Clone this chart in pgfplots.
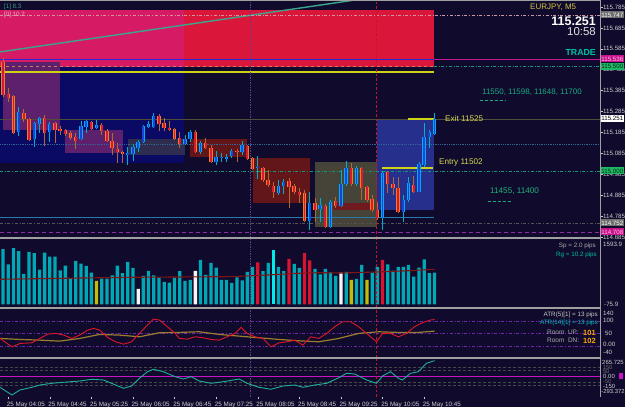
\documentclass[border=0pt]{standalone}
\usepackage{fontspec}
\setmainfont{Liberation Sans}
\usepackage{pgfplots}
\usepackage{pgfplotstable}
\pgfplotsset{compat=1.18}
\pgfplotsset{/pgf/number format/assume math mode=true}

\definecolor{bg}{RGB}{16,11,44}
\definecolor{lbl}{RGB}{205,205,205}
\definecolor{navybox}{RGB}{10,10,100}
\definecolor{pinkbox}{RGB}{214,26,100}
\definecolor{crimbox}{RGB}{218,22,58}
\definecolor{purpbox}{RGB}{92,32,108}
\definecolor{graybox}{RGB}{46,45,80}
\definecolor{brownbox}{RGB}{98,22,26}
\definecolor{olivebox}{RGB}{70,68,56}
\definecolor{bluebox}{RGB}{38,48,140}
\definecolor{smallred}{RGB}{112,26,32}
\definecolor{diag}{RGB}{60,165,140}
\definecolor{yel}{RGB}{205,212,20}
\definecolor{txtyel}{RGB}{215,215,80}
\definecolor{teal1}{RGB}{25,170,130}
\definecolor{bullwick}{RGB}{0,175,200}
\definecolor{bearwick}{RGB}{175,105,50}
\definecolor{bulledge}{RGB}{0,170,255}
\definecolor{bullfill}{RGB}{20,70,210}
\definecolor{bearedge}{RGB}{240,125,40}
\definecolor{bearfill}{RGB}{215,25,50}
\definecolor{volcyan}{RGB}{0,168,182}
\definecolor{volbright}{RGB}{0,235,235}
\definecolor{volred}{RGB}{215,20,50}
\definecolor{volyel}{RGB}{190,190,10}
\definecolor{volma}{RGB}{125,22,22}
\definecolor{atrred}{RGB}{225,20,40}
\definecolor{atrolive}{RGB}{155,125,45}
\definecolor{lvl}{RGB}{110,40,170}
\definecolor{ccit}{RGB}{30,175,155}
\definecolor{magl}{RGB}{200,20,200}
\definecolor{sep}{RGB}{160,160,160}
\definecolor{reddash}{RGB}{200,20,30}
\definecolor{purdot}{RGB}{100,60,140}

\newcommand{\fs}[1]{\fontsize{#1}{#1}\selectfont}

\pgfplotsset{panel/.style={anchor=south west, width=600bp, scale only axis,
  xmin=-0.577, xmax=114.81, axis line style={draw=none},
  xtick=\empty, ytick=\empty, clip=true}}

\begin{document}
\pgfplotstableread{
i O H L C
3 115.187 115.307 115.168 115.283
6 115.153 115.235 115.115 115.230
7 115.225 115.259 115.182 115.254
9 115.187 115.235 115.139 115.225
15 115.153 115.240 115.149 115.216
16 115.211 115.244 115.182 115.240
18 115.206 115.244 115.201 115.220
24 115.077 115.115 115.029 115.086
25 115.082 115.129 115.048 115.115
26 115.110 115.149 115.091 115.139
27 115.139 115.220 115.134 115.216
28 115.211 115.240 115.206 115.225
29 115.211 115.278 115.206 115.263
35 115.129 115.173 115.125 115.153
36 115.153 115.197 115.139 115.187
38 115.091 115.144 115.082 115.134
41 115.043 115.096 115.029 115.067
42 115.062 115.086 115.043 115.067
43 115.058 115.082 115.043 115.067
44 115.072 115.106 115.062 115.096
46 115.091 115.144 115.077 115.125
49 115.015 115.072 114.962 115.019
53 114.895 114.957 114.885 114.929
54 114.929 114.962 114.890 114.948
59 114.761 114.900 114.718 114.847
61 114.818 114.871 114.756 114.838
63 114.732 114.862 114.728 114.852
65 114.833 115.005 114.828 114.938
66 114.938 115.048 114.929 115.015
68 114.938 115.024 114.929 115.015
73 114.775 115.000 114.718 114.991
77 114.804 114.885 114.756 114.862
78 114.862 114.972 114.852 114.943
80 114.900 115.043 114.900 115.034
81 115.029 115.230 115.019 115.163
82 115.163 115.197 115.110 115.187
83 115.177 115.278 115.173 115.251
}\bull
\pgfplotstableread{
i O H L C
0 115.522 115.541 115.354 115.364
1 115.369 115.397 115.330 115.350
2 115.359 115.364 115.177 115.182
4 115.278 115.297 115.235 115.249
5 115.249 115.254 115.144 115.149
8 115.254 115.268 115.120 115.182
10 115.230 115.235 115.134 115.197
11 115.201 115.216 115.173 115.192
12 115.197 115.201 115.168 115.177
13 115.182 115.192 115.149 115.158
14 115.163 115.182 115.106 115.144
17 115.235 115.240 115.197 115.201
19 115.220 115.230 115.173 115.192
20 115.192 115.201 115.139 115.144
21 115.144 115.182 115.077 115.110
22 115.106 115.134 115.039 115.091
23 115.091 115.096 115.039 115.082
30 115.263 115.273 115.192 115.225
31 115.230 115.254 115.192 115.206
32 115.206 115.240 115.192 115.197
33 115.201 115.206 115.149 115.153
34 115.158 115.187 115.110 115.129
37 115.187 115.197 115.086 115.091
39 115.134 115.158 115.106 115.110
40 115.110 115.125 115.039 115.043
45 115.096 115.106 115.043 115.091
47 115.120 115.125 115.053 115.058
48 115.062 115.067 115.005 115.010
50 115.015 115.019 114.948 114.957
51 114.957 115.005 114.924 114.933
52 114.929 114.948 114.871 114.900
55 114.952 114.967 114.823 114.924
56 114.929 114.938 114.890 114.900
57 114.900 114.919 114.847 114.885
58 114.895 114.909 114.756 114.761
60 114.847 114.871 114.756 114.814
62 114.833 114.842 114.728 114.732
64 114.857 114.876 114.823 114.833
67 115.015 115.039 114.929 114.938
69 115.015 115.019 114.862 114.919
70 114.924 114.929 114.852 114.862
71 114.866 114.885 114.804 114.814
72 114.814 114.852 114.766 114.775
74 114.996 115.000 114.895 114.938
75 114.938 114.972 114.885 114.919
76 114.919 114.972 114.799 114.804
79 114.933 114.976 114.895 114.900
}\bear
\begin{tikzpicture}
\useasboundingbox (0bp,0bp) rectangle (625bp,407bp);
\fill[bg] (0bp,0bp) rectangle (625bp,407bp);

% ================= MAIN PRICE PANEL =================
\begin{axis}[panel, at={(0bp,168.5bp)}, height=238.5bp,
  ymin=114.6774, ymax=115.8185,
  ytick={114.685,114.785,114.885,114.985,115.085,115.185,115.285,115.385,115.485,115.585,115.685,115.785},
  ytick pos=right, yticklabel pos=right, tick align=outside, major tick length=2.5bp,
  tick style={draw=lbl, line width=0.5bp},
  yticklabel style={font=\fs{6.2}, text=lbl, inner sep=0pt, anchor=west, xshift=0.5bp},
  yticklabel={\pgfmathprintnumber[fixed,fixed zerofill,precision=3]{\tick}},
]
% big zones
\addplot[fill=pinkbox, draw=none] coordinates {(-0.577,115.498) (34.8,115.498) (34.8,115.771) (-0.577,115.771)};
\addplot[fill=crimbox, draw=none] coordinates {(34.8,115.498) (82.9,115.498) (82.9,115.771) (34.8,115.771)};
\addplot[fill=navybox, draw=none] coordinates {(-0.577,115.039) (34.8,115.039) (34.8,115.498) (-0.577,115.498)};
% hourly boxes
\addplot[fill=purpbox, draw=none] coordinates {(0,115.197) (11,115.197) (11,115.522) (0,115.522)};
\addplot[fill=purpbox, draw=none] coordinates {(12,115.086) (23,115.086) (23,115.197) (12,115.197)};
\addplot[fill=graybox, draw=none] coordinates {(24,115.077) (35,115.077) (35,115.153) (24,115.153)};
\addplot[fill=brownbox, draw=none] coordinates {(36,115.067) (47,115.067) (47,115.153) (36,115.153)};
\addplot[fill=brownbox, draw=none] coordinates {(48,114.847) (59,114.847) (59,115.062) (48,115.062)};
\addplot[fill=olivebox, draw=none] coordinates {(60,114.732) (71.85,114.732) (71.85,115.043) (60,115.043)};
\addplot[fill=smallred, draw=none] coordinates {(63.5,114.814) (71,114.814) (71,114.847) (63.5,114.847)};
\addplot[fill=bluebox, draw=none] coordinates {(71.95,114.814) (82.8,114.814) (82.8,115.249) (71.95,115.249)};
% diagonal trend line
\addplot[diag, line width=1.4bp] coordinates {(-0.577,115.570) (72.5,115.836)};
% horizontal levels
\addplot[color={rgb,255:red,205;green,150;blue,165}, dash dot, line width=0.6bp] coordinates {(-0.577,115.747) (114.81,115.747)};
\addplot[color={rgb,255:red,40;green,40;blue,215}, line width=0.8bp] coordinates {(-0.577,115.536) (82.9,115.536)};
\addplot[color={rgb,255:red,195;green,25;blue,145}, line width=0.8bp] coordinates {(82.9,115.536) (114.81,115.536)};
\addplot[color={rgb,255:red,200;green,125;blue,95}, dashed, line width=0.7bp] coordinates {(-0.577,115.500) (82.9,115.500)};
\addplot[color={rgb,255:red,20;green,150;blue,130}, dash dot, line width=0.7bp] coordinates {(82.9,115.500) (114.81,115.500)};
\addplot[yel, line width=1.2bp] coordinates {(-0.577,115.474) (82.9,115.474)};
\addplot[color={rgb,255:red,78;green,78;blue,58}, line width=0.9bp] coordinates {(-0.577,115.249) (114.81,115.249)};
\addplot[color={rgb,255:red,50;green,100;blue,150}, densely dotted, line width=0.8bp] coordinates {(-0.577,115.129) (114.81,115.129)};
\addplot[color={rgb,255:red,20;green,150;blue,120}, dash dot, line width=0.7bp] coordinates {(-0.577,115.000) (114.81,115.000)};
\addplot[color={rgb,255:red,40;green,120;blue,170}, line width=0.7bp] coordinates {(-0.577,114.780) (82.9,114.780)};
\addplot[color={rgb,255:red,85;green,85;blue,85}, dash dot, line width=0.7bp] coordinates {(-0.577,114.752) (114.81,114.752)};
\addplot[color={rgb,255:red,150;green,40;blue,170}, dash pattern=on 4bp off 3bp, line width=0.9bp] coordinates {(-0.577,114.708) (114.81,114.708)};
% trade levels
\addplot[yel, line width=1.4bp] coordinates {(77.9,115.249) (83.1,115.249)};
\addplot[yel, line width=1.4bp] coordinates {(72.9,115.015) (82.7,115.015)};
\addplot[teal1, densely dashed, line width=0.6bp] coordinates {(91.7,115.340) (96.5,115.340)};
\addplot[teal1, densely dashed, line width=0.6bp] coordinates {(93.3,114.857) (97.9,114.857)};
% verticals
\addplot[purdot, densely dotted, line width=0.7bp] coordinates {(47.63,114.6774) (47.63,115.8185)};
\addplot[reddash, dash pattern=on 2.5bp off 2bp, line width=0.8bp] coordinates {(71.83,114.6774) (71.83,115.8185)};
% candles: wicks
\addplot[draw=none, mark=none, forget plot, error bars/.cd, y dir=plus, y explicit, error mark=none,
  error bar style={draw=bullwick, line width=0.8bp}]
  table[x=i, y=L, y error plus expr=\thisrow{H}-\thisrow{L}] {\bull};
\addplot[draw=none, mark=none, forget plot, error bars/.cd, y dir=plus, y explicit, error mark=none,
  error bar style={draw=bearwick, line width=0.8bp}]
  table[x=i, y=L, y error plus expr=\thisrow{H}-\thisrow{L}] {\bear};
% candles: bodies
\addplot[draw=none, mark=none, forget plot, error bars/.cd, y dir=plus, y explicit, error mark=none,
  error bar style={draw=bulledge, line width=3.4bp}]
  table[x=i, y=O, y error plus expr=\thisrow{C}-\thisrow{O}] {\bull};
\addplot[draw=none, mark=none, forget plot, error bars/.cd, y dir=plus, y explicit, error mark=none,
  error bar style={draw=bullfill, line width=1.8bp}]
  table[x=i, y=O, y error plus expr=\thisrow{C}-\thisrow{O}] {\bull};
\addplot[draw=none, mark=none, forget plot, error bars/.cd, y dir=plus, y explicit, error mark=none,
  error bar style={draw=bearedge, line width=3.4bp}]
  table[x=i, y=C, y error plus expr=\thisrow{O}-\thisrow{C}] {\bear};
\addplot[draw=none, mark=none, forget plot, error bars/.cd, y dir=plus, y explicit, error mark=none,
  error bar style={draw=bearfill, line width=1.8bp}]
  table[x=i, y=C, y error plus expr=\thisrow{O}-\thisrow{C}] {\bear};
\end{axis}

% ================= VOLUME PANEL =================
\begin{axis}[panel, at={(0bp,99.5bp)}, height=68.5bp, ymin=-75.9, ymax=1593.9]
\addplot[ybar, bar width=3.3bp, bar shift=0pt, fill=volcyan, draw=none] coordinates {
(0,1344) (1,978) (2,1369) (3,1296) (4,742) (5,1279) (6,1247) (7,847) (8,1261) (9,1164)
(10,1164) (11,832) (12,944) (13,637) (14,1059) (15,993) (16,937) (17,773) (19,627)
(20,627) (21,710) (22,944) (23,759) (24,1035) (25,888) (27,693) (28,815) (29,710)
(30,651) (31,547) (32,529) (33,651) (34,808) (35,571) (36,595) (38,1083) (39,717)
(40,1010) (41,895) (42,595) (43,595) (44,522) (45,661) (46,588) (47,791) (48,913)
(50,808) (51,1010) (53,913) (54,808) (56,986) (57,888) (60,864) (61,734) (62,864)
(63,783) (64,693) (66,791) (68,620) (69,961) (71,773) (72,913) (74,978) (75,822)
(76,913) (77,913) (78,961) (79,676) (80,895) (81,1100) (82,759) (83,773)};
\addplot[ybar, bar width=3.3bp, bar shift=0pt, fill=volred, draw=none] coordinates {
(49,1027) (55,1108) (58,1247) (59,1071) (73,1083)};
\addplot[ybar, bar width=3.3bp, bar shift=0pt, fill=white!92!gray, draw=none] coordinates {
(26,376) (37,815) (65,773)};
\addplot[ybar, bar width=3.3bp, bar shift=0pt, fill=volyel, draw=none] coordinates {
(18,571) (67,595) (70,595)};
\addplot[ybar, bar width=3.3bp, bar shift=0pt, fill=volbright, draw=none] coordinates {(52,1320)};
\addplot[volma, line width=1.1bp] coordinates {(-0.577,612) (12,637) (25,661) (44,676) (51,717) (57,759) (61,773) (65,765) (72,790) (78,820) (83,856)};
\addplot[purdot, densely dotted, line width=0.7bp] coordinates {(47.63,-75.9) (47.63,1593.9)};
\addplot[reddash, dash pattern=on 2.5bp off 2bp, line width=0.8bp] coordinates {(71.83,-75.9) (71.83,1593.9)};
\end{axis}

% ================= ATR PANEL =================
\begin{axis}[panel, at={(0bp,49.3bp)}, height=48.7bp, ymin=-46, ymax=148]
\addplot[lvl, dash dot, line width=0.6bp] coordinates {(-0.577,100) (114.81,100)};
\addplot[lvl, dash dot, line width=0.6bp] coordinates {(-0.577,50) (114.81,50)};
\addplot[lvl, dash dot, line width=0.6bp] coordinates {(-0.577,0) (114.81,0)};
\addplot[purdot, densely dotted, line width=0.7bp] coordinates {(47.63,-46) (47.63,148)};
\addplot[reddash, dash pattern=on 2.5bp off 2bp, line width=0.8bp] coordinates {(71.83,-46) (71.83,148)};
\addplot[atrolive, line width=1.2bp] coordinates {
(-0.58,30.7) (3.25,26.7) (7.09,24) (10.92,20) (14.75,30.7) (18.58,46.7) (22.41,44)
(26.24,37.3) (30.07,53.3) (33.9,54.7) (37.74,57.3) (41.57,46.7) (45.4,40) (49.23,33.3)
(53.06,26.7) (56.9,21.3) (60.72,17.3) (64.56,30.7) (68.39,50.7) (72.22,57.3) (76.05,54.7)
(79.88,54.7) (83,60)};
\addplot[atrred, line width=0.9bp] coordinates {
(-0.58,30.7) (1.72,-2.7) (3.25,10.7) (5.55,13.3) (7.09,30.7) (8.62,48) (10.15,50.7)
(11.68,44) (13.22,30.7) (14.75,44) (16.28,64) (17.43,70.7) (18.58,64) (20.11,34.7)
(21.65,17.3) (23.18,8) (24.71,17.3) (26.24,50.7) (27.78,84) (28.92,108) (30.07,104)
(31.6,77.3) (33.14,50.7) (33.9,30.7) (35.44,28) (36.97,37.3) (38.5,33.3) (40.03,26.7)
(41.57,24) (43.1,37.3) (44.63,50.7) (45.78,74.7) (46.93,50.7) (48.47,37.3) (50,30.7)
(51.53,-2.7) (53.06,13.3) (54.6,17.3) (56.13,24) (57.66,4) (59.2,37.3) (60.72,30.7)
(62.26,50.7) (63.79,77.3) (65.32,97.3) (66.86,97.3) (68.39,77.3) (69.92,50.7) (71.84,17.3)
(72.99,50.7) (74.52,50.7) (76.05,37.3) (77.58,50.7) (79.11,77.3) (80.65,93.3) (82.18,104) (83,106)};
\end{axis}

% ================= CCI PANEL =================
\begin{axis}[panel, at={(0bp,10bp)}, height=38.5bp, ymin=-352, ymax=302.6,
  xtick={1,9,17,25,33,41,49,57,65,73,81},
  xticklabels={25 May 04:05,25 May 04:45,25 May 05:25,25 May 06:05,25 May 06:45,25 May 07:25,25 May 08:05,25 May 08:45,25 May 09:25,25 May 10:05,25 May 10:45},
  xtick pos=left, tick align=outside, major tick length=2.5bp,
  tick style={draw=lbl, line width=0.5bp},
  xticklabel style={font=\fs{6.3}, text=lbl, anchor=north west, inner sep=0pt, xshift=-1.5bp, yshift=-2.5bp},
]
\addplot[color={rgb,255:red,70;green,70;blue,70}, densely dashed, line width=0.6bp] coordinates {(-0.577,150) (114.81,150)};
\addplot[color={rgb,255:red,70;green,70;blue,70}, densely dashed, line width=0.6bp] coordinates {(-0.577,100) (114.81,100)};
\addplot[color={rgb,255:red,70;green,70;blue,70}, densely dashed, line width=0.6bp] coordinates {(-0.577,-100) (114.81,-100)};
\addplot[color={rgb,255:red,70;green,70;blue,70}, densely dashed, line width=0.6bp] coordinates {(-0.577,-150) (114.81,-150)};
\addplot[magl, line width=0.8bp] coordinates {(-0.577,0) (114.81,0)};
\addplot[purdot, densely dotted, line width=0.7bp] coordinates {(47.63,-352) (47.63,302.6)};
\addplot[reddash, dash pattern=on 2.5bp off 2bp, line width=0.8bp] coordinates {(71.83,-352) (71.83,302.6)};
\addplot[ccit, line width=0.9bp] coordinates {
(-0.58,-187) (1.72,-318) (3.25,-233) (5.55,-187) (7.09,-148) (9.38,-119) (11.68,-102)
(14.75,-80) (17.05,-51) (19.35,-63) (21.65,-148) (23.18,-204) (24.71,-165) (26.24,-34)
(27.78,78) (28.92,119) (30.84,78) (33.14,-7) (34.67,-46) (36.21,-7) (37.74,-80)
(40.03,-119) (42.33,-92) (45.4,-46) (46.93,-119) (49.23,-187) (51.53,-221) (53.83,-165)
(56.13,-148) (57.66,-187) (59.96,-148) (62.26,-119) (64.56,-24) (66.09,51) (67.62,39)
(69.92,-63) (71.84,-119) (72.99,5) (74.52,78) (76.05,-34) (76.82,-63) (78.35,51)
(79.88,78) (81.41,221) (83,265.7)};
\end{axis}

\begin{scope}[x=1bp,y=1bp]
% ================= frame lines =================
\draw[sep, line width=0.8bp] (0,406.3) -- (600,406.3);
\draw[sep, line width=1.6bp] (0,168.7) -- (600,168.7);
\draw[sep, line width=1.6bp] (0,98.8) -- (600,98.8);
\draw[sep, line width=1.6bp] (0,49.1) -- (600,49.1);
\draw[sep, line width=0.8bp] (600.2,10) -- (600.2,407);

% ================= texts: main panel =================
\node[anchor=west, font=\fs{6.3}, text={rgb,255:red,60;green,150;blue,130}] at (0.5,400.5) {[1] 8.3};
\node[anchor=west, font=\fs{6.3}, text={rgb,255:red,230;green,175;blue,195}] at (0.5,392) {[0] 10.2};
\node[anchor=west, font=\fs{8}, text={rgb,255:red,210;green,195;blue,70}, inner sep=0pt] at (530,400) {EURJPY, M5};
\node[anchor=east, font=\bfseries\fs{12.5}, text=white, inner sep=0pt] at (596,386) {115.251};
\node[anchor=east, font=\fs{11.5}, text={rgb,255:red,225;green,225;blue,225}, inner sep=0pt] at (596,375) {10:58};
\node[anchor=east, font=\bfseries\fs{8.8}, text={rgb,255:red,0;green,195;blue,165}, inner sep=0pt] at (596,355) {TRADE};
\node[anchor=west, font=\fs{8}, text=teal1, inner sep=0pt] at (482,315) {11550, 11598, 11648, 11700};
\node[anchor=west, font=\fs{8.2}, text=txtyel, inner sep=0pt] at (445,288) {Exit 11525};
\node[anchor=west, font=\fs{8.2}, text=txtyel, inner sep=0pt] at (439,245) {Entry 11502};
\node[anchor=west, font=\fs{8.2}, text={rgb,255:red,30;green,180;blue,120}, inner sep=0pt] at (490,216) {11455, 11400};

% right-side price tags
\node[anchor=west, fill={rgb,255:red,110;green,110;blue,110}, text=white, font=\fs{6.2}, inner sep=0.4bp, minimum height=7bp] at (600.8,392) {115.747};
\node[anchor=west, fill={rgb,255:red,200;green,20;blue,140}, text={rgb,255:red,255;green,190;blue,230}, font=\fs{6.2}, inner sep=0.4bp, minimum height=7bp] at (600.8,348) {115.536};
\node[anchor=west, fill={rgb,255:red,30;green,185;blue,100}, text={rgb,255:red,10;green,40;blue,20}, font=\fs{6.2}, inner sep=0.4bp, minimum height=7bp] at (600.8,340.5) {115.500};
\node[anchor=west, fill=white, text=black, font=\fs{6.2}, inner sep=0.4bp, minimum height=7bp] at (600.8,288.5) {115.251};
\node[anchor=west, fill={rgb,255:red,30;green,185;blue,100}, text={rgb,255:red,10;green,40;blue,20}, font=\fs{6.2}, inner sep=0.4bp, minimum height=7bp] at (600.8,236) {115.000};
\node[anchor=west, fill={rgb,255:red,110;green,110;blue,110}, text=white, font=\fs{6.2}, inner sep=0.4bp, minimum height=7bp] at (600.8,184) {114.752};
\node[anchor=west, fill={rgb,255:red,200;green,20;blue,140}, text={rgb,255:red,255;green,190;blue,230}, font=\fs{6.2}, inner sep=0.4bp, minimum height=7bp] at (600.8,175) {114.708};

% ================= texts: volume panel =================
\node[anchor=east, font=\fs{6.3}, text={rgb,255:red,170;green,170;blue,170}, inner sep=0pt] at (596,161.3) {Sp = 2.0 pips};
\node[anchor=east, font=\fs{6.3}, text={rgb,255:red,0;green,190;blue,160}, inner sep=0pt] at (597,152) {Rg = 10.2 pips};
\node[anchor=west, font=\fs{6.2}, text=lbl, inner sep=0pt] at (603,163) {1593.9};
\node[anchor=west, font=\fs{6.2}, text=lbl, inner sep=0pt] at (604,103) {-75.9};

% ================= texts: ATR panel =================
\node[anchor=east, font=\fs{6.3}, text={rgb,255:red,200;green,200;blue,200}, inner sep=0pt] at (598,92) {ATR(5)[1] = 13 pips};
\node[anchor=east, font=\fs{6.3}, text={rgb,255:red,0;green,190;blue,190}, inner sep=0pt] at (598,84) {ATR(14)[1] = 13 pips};
\node[anchor=west, font=\fs{6.5}, text={rgb,255:red,170;green,170;blue,170}, inner sep=0pt] at (547,74.3) {Room\ \ UP:};
\node[anchor=west, font=\bfseries\fs{7.5}, text={rgb,255:red,255;green,165;blue,0}, inner sep=0pt] at (583,74.3) {101};
\node[anchor=west, font=\fs{6.5}, text={rgb,255:red,170;green,170;blue,170}, inner sep=0pt] at (547,66.3) {Room\ \ DN:};
\node[anchor=west, font=\bfseries\fs{7.5}, text={rgb,255:red,255;green,165;blue,0}, inner sep=0pt] at (583,66.3) {102};
\node[anchor=west, font=\fs{6.2}, text=lbl, inner sep=0pt] at (603,93.5) {140};
\node[anchor=west, font=\fs{6.2}, text=lbl, inner sep=0pt] at (603,87) {100};
\node[anchor=west, font=\fs{6.2}, text=lbl, inner sep=0pt] at (605,74) {50};
\node[anchor=west, font=\fs{6.2}, text=lbl, inner sep=0pt] at (603,62.5) {0.00};
\node[anchor=west, font=\fs{6.2}, text=lbl, inner sep=0pt] at (603,55) {-40};

% ================= texts: CCI panel =================
\node[anchor=west, font=\fs{6}, text=lbl, inner sep=0pt] at (602,44.5) {265.725};
\node[anchor=west, font=\fs{5.5}, text={rgb,255:red,120;green,120;blue,120}, inner sep=0pt] at (603,39.2) {150};
\node[anchor=west, font=\fs{5.5}, text={rgb,255:red,120;green,120;blue,120}, inner sep=0pt] at (603,35.6) {50};
\node[anchor=west, font=\fs{6}, text=lbl, inner sep=0pt] at (603,31) {0.00};
\fill[magl] (618.5,28) rectangle (622.5,34);
\node[anchor=west, font=\fs{5.5}, text={rgb,255:red,120;green,120;blue,120}, inner sep=0pt] at (603,25.6) {-50};
\node[anchor=west, font=\fs{6}, text=lbl, inner sep=0pt] at (603,20.8) {-150};
\node[anchor=east, font=\fs{5.9}, text=lbl, inner sep=0pt] at (624.8,15.8) {-293.372};
\end{scope}
\end{tikzpicture}
\end{document}
